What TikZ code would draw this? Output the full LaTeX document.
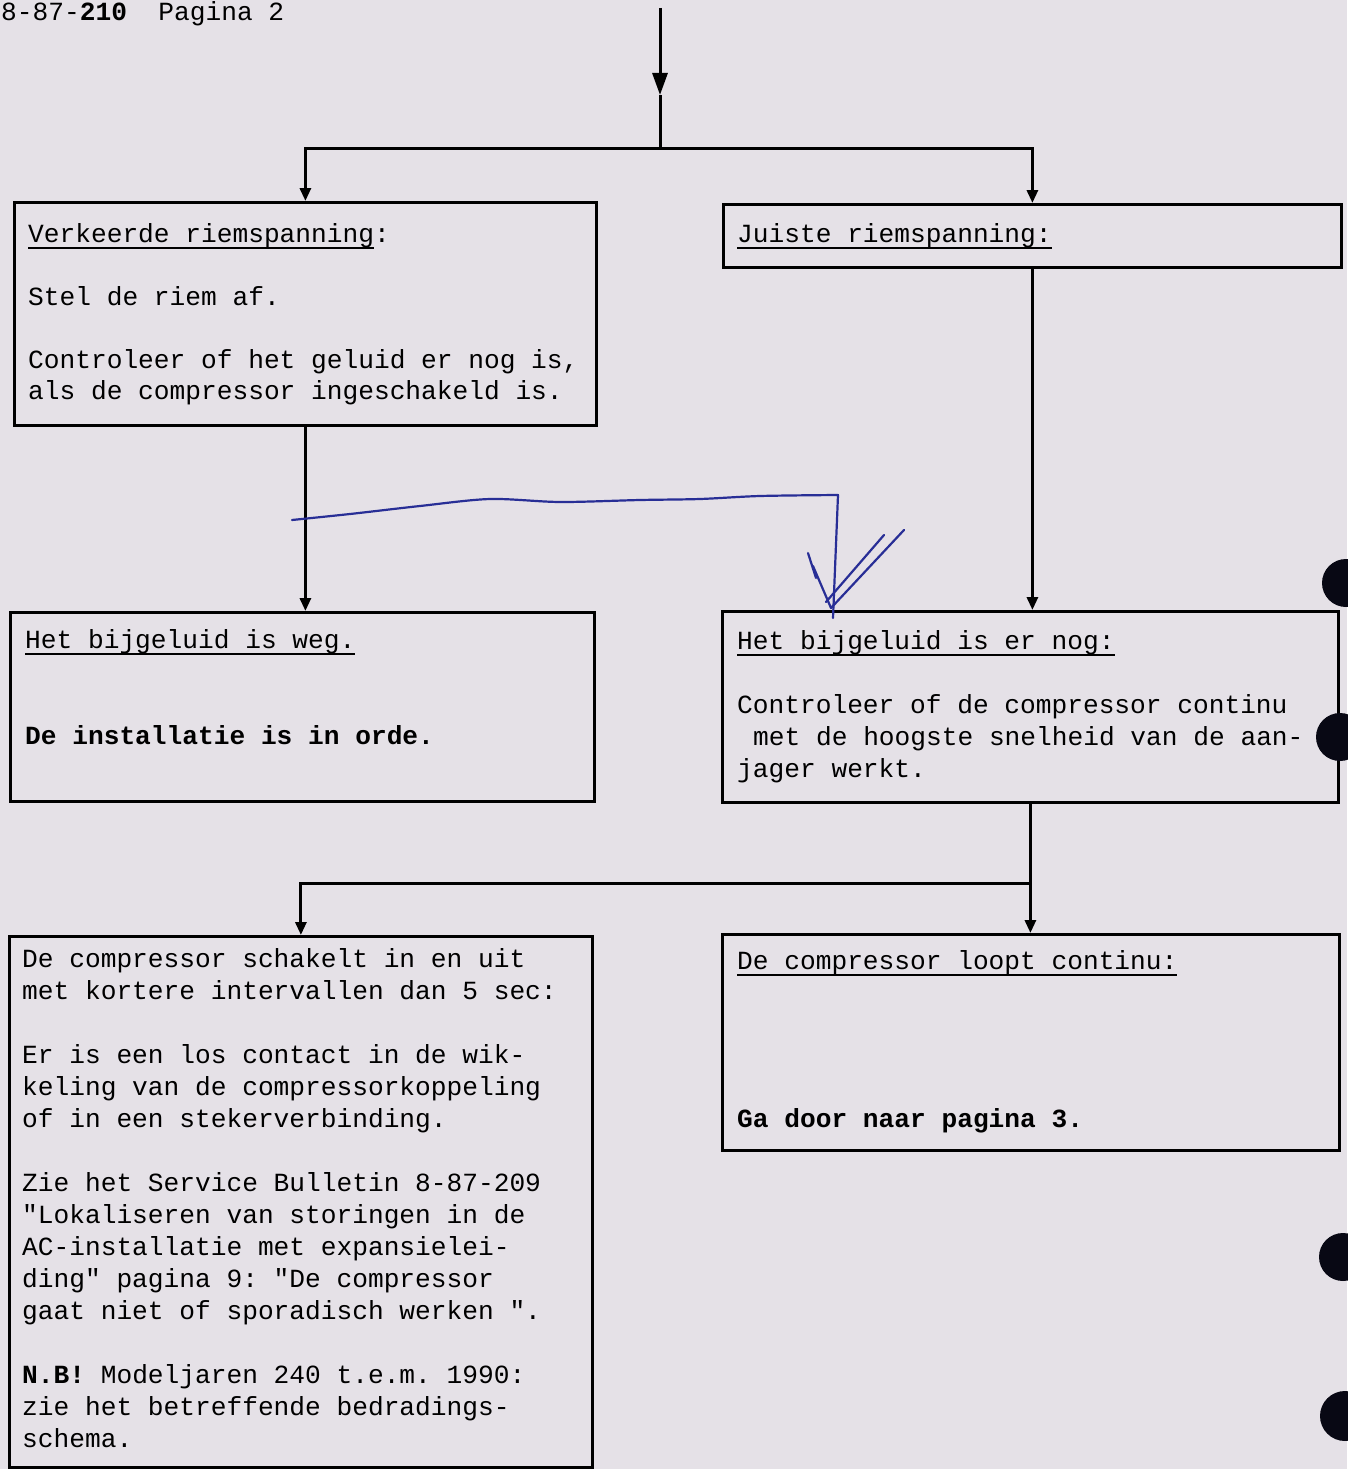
\documentclass[tikz,border=0pt]{standalone}
\usepackage{fontspec}
\setmonofont{Liberation Mono}
\usetikzlibrary{arrows.meta}
\definecolor{paper}{RGB}{229,225,231}
\definecolor{penblue}{RGB}{40,46,150}
\definecolor{holeblack}{RGB}{8,8,20}
\newcommand\tf{\fontsize{26.2}{32}\selectfont\ttfamily}
\newcommand\myul[1]{\setbox0\hbox{#1}\rlap{\rule[-7pt]{\wd0}{1.8pt}}\box0}
\tikzset{
  box/.style={draw, line width=2.8pt, inner sep=0pt, anchor=north west},
  txt/.style={anchor=base west, inner sep=0pt, font=\tf},
  arr/.style={-{Triangle[width=11pt,length=13pt]}, line width=3pt},
  bigarr/.style={-{Triangle[width=15pt,length=22pt]}, line width=3pt},
  wire/.style={line width=3pt},
  pen/.style={draw=penblue, line width=2.2pt, line cap=round, line join=round},
  hole/.style={fill=holeblack},
}
\begin{document}
\begin{tikzpicture}[x=1pt,y=1pt]
\fill[paper] (0,0) rectangle (1347,-1469);
\useasboundingbox (0,0) rectangle (1347,-1469);

% header
\node[txt] (hdr) at (1,-21) {8-87-\textbf{210}\ \ Pagina 2};

% boxes
\node[box, minimum width=582pt, minimum height=223pt] (A) at (13,-201) {};
\node[box, minimum width=618pt, minimum height=63pt]  (B) at (722,-203) {};
\node[box, minimum width=584pt, minimum height=189pt] (C) at (9,-611) {};
\node[box, minimum width=616pt, minimum height=191pt] (D) at (721,-610) {};
\node[box, minimum width=583pt, minimum height=531pt] (E) at (8,-935) {};
\node[box, minimum width=617pt, minimum height=216pt] (F) at (721,-933) {};

% box A text
\node[txt] (a1) at (28,-242) {\myul{Verkeerde riemspanning}:};
\node[txt] (a2) at (28,-305) {Stel de riem af.};
\node[txt] (a3) at (28,-368) {Controleer of het geluid er nog is,};
\node[txt] (a4) at (28,-399) {als de compressor ingeschakeld is.};
% box B text
\node[txt] (b1) at (737,-242) {\myul{Juiste riemspanning:}};
% box C text
\node[txt] (c1) at (25,-648) {\myul{Het bijgeluid is weg.}};
\node[txt] (c2) at (25,-744) {\textbf{De installatie is in orde.}};
% box D text
\node[txt] (d1) at (737,-649) {\myul{Het bijgeluid is er nog:}};
\node[txt] (d2) at (737,-713) {Controleer of de compressor continu};
\node[txt] (d3) at (753,-745) {met de hoogste snelheid van de aan-};
\node[txt] (d4) at (737,-777) {jager werkt.};
% box E text
\node[txt] (e1) at (22,-967) {De compressor schakelt in en uit};
\node[txt] (e2) at (22,-999) {met kortere intervallen dan 5 sec:};
\node[txt] (e3) at (22,-1063) {Er is een los contact in de wik-};
\node[txt] (e4) at (22,-1095) {keling van de compressorkoppeling};
\node[txt] (e5) at (22,-1127) {of in een stekerverbinding.};
\node[txt] (e6) at (22,-1191) {Zie het Service Bulletin 8-87-209};
\node[txt] (e7) at (22,-1223) {"Lokaliseren van storingen in de};
\node[txt] (e8) at (22,-1255) {AC-installatie met expansielei-};
\node[txt] (e9) at (22,-1287) {ding" pagina 9: "De compressor};
\node[txt] (e10) at (22,-1319) {gaat niet of sporadisch werken ".};
\node[txt] (e11) at (22,-1383) {\textbf{N.B!} Modeljaren 240 t.e.m. 1990:};
\node[txt] (e12) at (22,-1415) {zie het betreffende bedradings-};
\node[txt] (e13) at (22,-1447) {schema.};
% box F text
\node[txt] (f1) at (737,-969) {\myul{De compressor loopt continu:}};
\node[txt] (f2) at (737,-1127) {\textbf{Ga door naar pagina 3.}};

% connectors
\coordinate (in) at (660,-8);
\coordinate (inmid) at (660,-95);
\coordinate (split1) at (660,-148);
\path (D.south) ++(0,-80) coordinate (split2);
\draw[bigarr] (in) -- (inmid);
\draw[wire] (inmid) -- (split1);
\draw[arr] (split1) -| (A.north);
\draw[arr] (split1) -| (B.north);
\draw[arr] (A.south) -- (A.south |- C.north);
\draw[arr] (B.south) -- (B.south |- D.north);
\draw[wire] (D.south) -- (split2);
\draw[arr] (split2) -| (E.north);
\draw[arr] (split2) -- (split2 |- F.north);

% hand-drawn blue pen mark
\draw[pen] plot[smooth] coordinates {(292,-520) (350,-514) (420,-506) (490,-499) (560,-502) (640,-500) (700,-499) (760,-496) (838,-495)} -- (833,-618);
\draw[pen] (808,-553) -- (816,-578) -- (813,-566) -- (831,-608) -- (904,-530);
\draw[pen] (826,-602) -- (884,-535);

% punch holes
\fill[hole] (1346,-583) circle (24);
\fill[hole] (1340,-737) circle (24);
\fill[hole] (1343,-1257) circle (24);
\fill[hole] (1345,-1416) circle (25);
\end{tikzpicture}
\end{document}
